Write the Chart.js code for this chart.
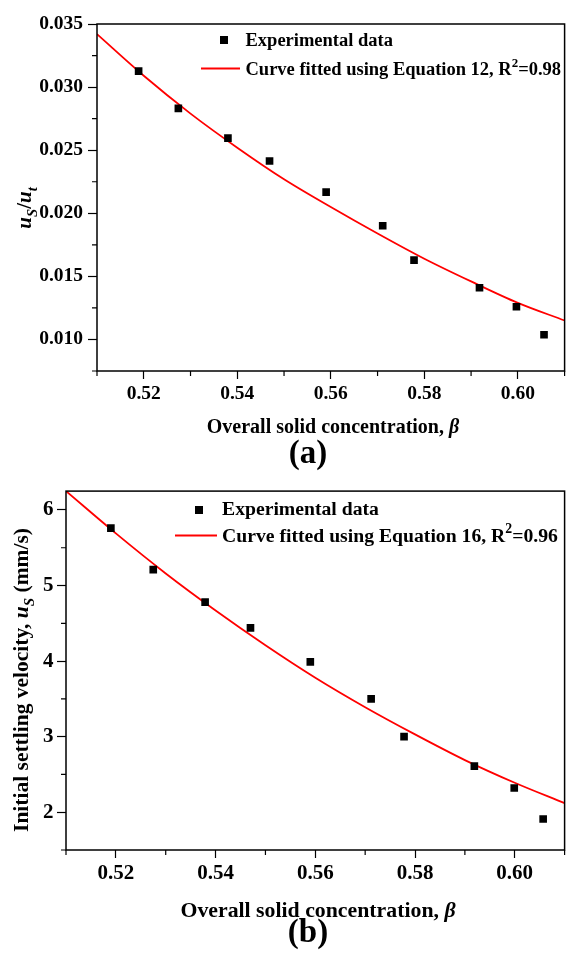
<!DOCTYPE html>
<html>
<head>
<meta charset="utf-8">
<script src="https://cdn.jsdelivr.net/npm/chart.js@4.4.1/dist/chart.umd.min.js"></script>
<style>
  html, body { margin: 0; padding: 0; background: #fff; width: 570px; height: 953px; overflow: hidden; }
  canvas { position: absolute; left: 0; }
  #chart-a { top: 0; }
  #chart-b { top: 475px; }
</style>
</head>
<body>
<canvas id="chart-a" width="570" height="475"></canvas>
<canvas id="chart-b" width="570" height="478"></canvas>
<script>
// ---- data, panel (a): u_S/u_t against beta
const betaA    = [0.5189, 0.5274, 0.5380, 0.5469, 0.5590, 0.5711, 0.5778, 0.5918, 0.5997, 0.6056];
const ratioA   = [0.03127, 0.02831, 0.02596, 0.02414, 0.02168, 0.01901, 0.01629, 0.01410, 0.01259, 0.01037];
const fitBetaA = [0.51, 0.52, 0.53, 0.54, 0.55, 0.56, 0.57, 0.58, 0.59, 0.60, 0.61];
const fitRatioA = [0.0342, 0.0309, 0.0279, 0.0252, 0.0227, 0.0205, 0.0184, 0.0164, 0.0146, 0.0129, 0.0115];

// ---- data, panel (b): initial settling velocity (mm/s) against beta
const betaB    = [0.5190, 0.5275, 0.5379, 0.5470, 0.5590, 0.5712, 0.5778, 0.5919, 0.5999, 0.6057];
const velB     = [5.76, 5.21, 4.78, 4.44, 3.99, 3.50, 3.00, 2.61, 2.32, 1.91];
const fitBetaB = [0.51, 0.52, 0.53, 0.54, 0.55, 0.56, 0.57, 0.58, 0.59, 0.60, 0.61];
const fitVelB  = [6.25, 5.69, 5.16, 4.67, 4.21, 3.78, 3.39, 3.03, 2.69, 2.39, 2.12];

// ---- ticks
const xTicks  = [0.52, 0.54, 0.56, 0.58, 0.60];
const xMinor  = [0.51, 0.53, 0.55, 0.57, 0.59, 0.61];
const yTicksA = [0.010, 0.015, 0.020, 0.025, 0.030, 0.035];
const yMinorA = [0.0075, 0.0125, 0.0175, 0.0225, 0.0275, 0.0325];
const yTicksB = [2, 3, 4, 5, 6];
const yMinorB = [1.5, 2.5, 3.5, 4.5, 5.5];

const FONT = '"Liberation Serif", "Times New Roman", serif';

// rich text: segments {t, it, sub, sup}
function segFont(s, size) {
  const sz = (s.sub || s.sup) ? size * 0.7 : size;
  return `${s.it ? 'italic ' : ''}bold ${sz}px ${FONT}`;
}
function richWidth(ctx, segs, size) {
  return segs.reduce((w, s) => { ctx.font = segFont(s, size); return w + ctx.measureText(s.t).width; }, 0);
}
function drawRich(ctx, segs, x, y, size, align) {
  let cx = align === 'center' ? x - richWidth(ctx, segs, size) / 2 : x;
  ctx.textBaseline = 'alphabetic';
  ctx.textAlign = 'left';
  segs.forEach(s => {
    ctx.font = segFont(s, size);
    const dy = s.sub ? size * 0.3 : s.sup ? -size * 0.42 : 0;
    ctx.fillText(s.t, cx, y + dy);
    cx += ctx.measureText(s.t).width;
  });
}

const decor = {
  id: 'decor',
  afterDraw(chart, args, o) {
    const { ctx, chartArea: a, scales: { x, y } } = chart;
    ctx.save();
    ctx.fillStyle = '#000';
    ctx.strokeStyle = '#000';

    // frame
    ctx.lineWidth = 1.5;
    ctx.strokeRect(a.left, a.top, a.right - a.left, a.bottom - a.top);

    // minor ticks
    ctx.lineWidth = 1.2;
    ctx.beginPath();
    o.xMinor.forEach(v => { const px = x.getPixelForValue(v); ctx.moveTo(px, a.bottom); ctx.lineTo(px, a.bottom + 5); });
    o.yMinor.forEach(v => { const py = y.getPixelForValue(v); ctx.moveTo(a.left, py); ctx.lineTo(a.left - 5, py); });
    ctx.stroke();

    // x title + panel label
    drawRich(ctx, o.xTitle, o.xTitlePos[0], o.xTitlePos[1], o.xTitleSize, 'center');
    drawRich(ctx, [{ t: o.panel }], o.panelPos[0], o.panelPos[1], o.panelSize, 'center');

    // y title (rotated)
    ctx.save();
    ctx.translate(o.yTitlePos[0], o.yTitlePos[1]);
    ctx.rotate(-Math.PI / 2);
    drawRich(ctx, o.yTitle, 0, 0, o.yTitleSize, 'center');
    ctx.restore();

    // legend
    const L = o.legend;
    ctx.fillRect(L.marker[0] - 4, L.marker[1] - 4, 8, 8);
    ctx.strokeStyle = '#ff0000';
    ctx.lineWidth = 1.8;
    ctx.beginPath();
    ctx.moveTo(L.line[0], L.line[2]);
    ctx.lineTo(L.line[1], L.line[2]);
    ctx.stroke();
    drawRich(ctx, [{ t: 'Experimental data' }], L.textX, L.base1, L.size, 'left');
    drawRich(ctx, L.fitLabel, L.textX, L.base2, L.size, 'left');

    ctx.restore();
  }
};

function makeChart(id, cfg) {
  const tickFont = { family: FONT, size: cfg.tickSize, weight: 'bold' };
  return new Chart(document.getElementById(id), {
    type: 'scatter',
    data: {
      datasets: [
        {
          label: 'Experimental data',
          data: cfg.px.map((v, i) => ({ x: v, y: cfg.py[i] })),
          pointStyle: 'rect',
          pointRadius: 5.4,
          backgroundColor: '#000',
          borderWidth: 0,
          order: 1
        },
        {
          label: 'Curve fitted',
          data: cfg.fx.map((v, i) => ({ x: v, y: cfg.fy[i] })),
          showLine: true,
          borderColor: '#ff0000',
          borderWidth: 1.8,
          pointRadius: 0,
          cubicInterpolationMode: 'monotone',
          order: 2
        }
      ]
    },
    options: {
      responsive: false,
      animation: false,
      layout: { padding: { top: cfg.top, right: 1, left: 0, bottom: 0 } },
      scales: {
        x: {
          type: 'linear', min: 0.51, max: 0.61,
          afterFit: s => { s.height = cfg.xHeight; },
          afterBuildTicks: s => { s.ticks = xTicks.map(v => ({ value: v })); },
          grid: { drawOnChartArea: false, tickLength: 8, tickColor: '#000', tickWidth: 1.2 },
          border: { display: false },
          ticks: { font: tickFont, color: '#000', padding: cfg.xPad, maxRotation: 0, callback: v => v.toFixed(2) }
        },
        y: {
          type: 'linear', min: cfg.yMin, max: cfg.yMax,
          afterFit: s => { s.width = cfg.yWidth; },
          afterBuildTicks: s => { s.ticks = cfg.yTicks.map(v => ({ value: v })); },
          grid: { drawOnChartArea: false, tickLength: 9, tickColor: '#000', tickWidth: 1.2 },
          border: { display: false },
          ticks: { font: tickFont, color: '#000', padding: cfg.yPad, callback: cfg.yFmt }
        }
      },
      plugins: {
        legend: { display: false },
        tooltip: { enabled: false },
        decor: cfg.decor
      }
    },
    plugins: [decor]
  });
}

makeChart('chart-a', {
  px: betaA, py: ratioA, fx: fitBetaA, fy: fitRatioA,
  top: 24, xHeight: 104, yWidth: 97, yMin: 0.0075, yMax: 0.035, yTicks: yTicksA,
  tickSize: 19.5, xPad: 3, yPad: 5, yFmt: v => v.toFixed(3),
  decor: {
    xMinor, yMinor: yMinorA,
    xTitle: [{ t: 'Overall solid concentration, ' }, { t: 'β', it: true }],
    xTitlePos: [333, 433], xTitleSize: 20,
    panel: '(a)', panelPos: [308, 463], panelSize: 33,
    yTitle: [{ t: 'u', it: true }, { t: 'S', it: true, sub: true }, { t: '/' }, { t: 'u', it: true }, { t: 't', it: true, sub: true }],
    yTitlePos: [31, 208], yTitleSize: 21,
    legend: {
      marker: [224, 40], line: [201, 240, 68.5], textX: 245.5, base1: 45.7, base2: 75, size: 18.5,
      fitLabel: [{ t: 'Curve fitted using Equation 12, R' }, { t: '2', sup: true }, { t: '=0.98' }]
    }
  }
});

makeChart('chart-b', {
  px: betaB, py: velB, fx: fitBetaB, fy: fitVelB,
  top: 4, xHeight: 103, yWidth: 66, yMin: 1.5, yMax: 6.25, yTicks: yTicksB,
  tickSize: 21, xPad: 3, yPad: 3.5, yFmt: v => String(v),
  decor: {
    xMinor, yMinor: yMinorB,
    xTitle: [{ t: 'Overall solid concentration, ' }, { t: 'β', it: true }],
    xTitlePos: [318, 442], xTitleSize: 21.8,
    panel: '(b)', panelPos: [308, 467], panelSize: 33,
    yTitle: [{ t: 'Initial settling velocity, ' }, { t: 'u', it: true }, { t: 'S', it: true, sub: true }, { t: ' (mm/s)' }],
    yTitlePos: [28, 205], yTitleSize: 21.5,
    legend: {
      marker: [199, 35], line: [175, 217, 60.5], textX: 222, base1: 40, base2: 66.7, size: 19.7,
      fitLabel: [{ t: 'Curve fitted using Equation 16, R' }, { t: '2', sup: true }, { t: '=0.96' }]
    }
  }
});
</script>
</body>
</html>
